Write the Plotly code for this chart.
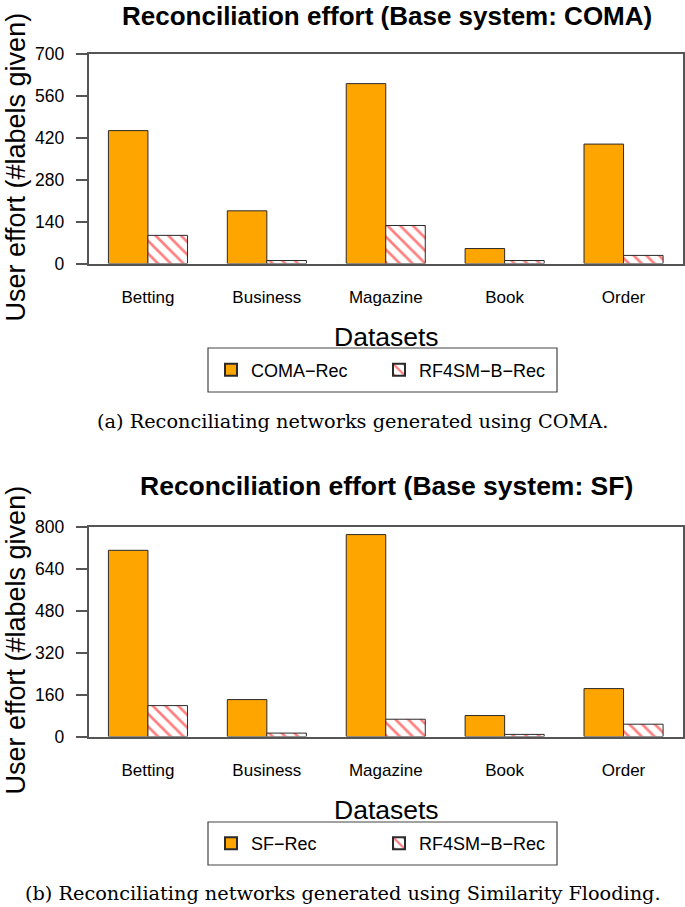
import plotly.graph_objects as go

categories = ["Betting", "Business", "Magazine", "Book", "Order"]
coma_rec = [444, 176, 601, 50, 399]
rf_coma = [94, 10, 127, 10, 27]
sf_rec = [711, 141, 771, 80, 183]
rf_sf = [118, 13, 66, 8, 47]
yticks_top = [0, 140, 280, 420, 560, 700]
yticks_bot = [0, 160, 320, 480, 640, 800]

W, H = 685, 907
def py(p):
    return 1 - p / H
def px(p):
    return p / W

ORANGE = "#FFA500"
SANS = "Liberation Sans"
SERIF = "DejaVu Serif"

fig = go.Figure()
pattern = dict(shape="\\", fgcolor="#FF0000", bgcolor="white", size=9, solidity=0.3)
line = dict(color="#2a2a2a", width=1)

fig.add_bar(x=categories, y=coma_rec, name="COMA\u2212Rec", marker=dict(color=ORANGE, line=line),
            xaxis="x", yaxis="y", legend="legend")
fig.add_bar(x=categories, y=rf_coma, name="RF4SM\u2212B\u2212Rec",
            marker=dict(color="white", line=line, pattern=pattern),
            xaxis="x", yaxis="y", legend="legend")
fig.add_bar(x=categories, y=sf_rec, name="SF\u2212Rec", marker=dict(color=ORANGE, line=line),
            xaxis="x2", yaxis="y2", legend="legend2")
fig.add_bar(x=categories, y=rf_sf, name="RF4SM\u2212B\u2212Rec",
            marker=dict(color="white", line=line, pattern=pattern),
            xaxis="x2", yaxis="y2", legend="legend2")

xd = [px(88.5), px(683)]
common_x = dict(domain=xd, showline=True, linecolor="#555", linewidth=1.5, mirror=True,
                ticks="", tickfont=dict(family=SANS, size=17, color="black"),
                showgrid=False, ticklabelstandoff=17, automargin=False)
common_y = dict(showline=True, linecolor="#555", linewidth=1.5, mirror=True,
                ticks="outside", ticklen=11, tickcolor="#555", tickwidth=1.5,
                ticklabelstandoff=8, automargin=False,
                tickfont=dict(family=SANS, size=17.5, color="black"), showgrid=False, zeroline=False)

legend_common = dict(orientation="h", borderwidth=0, bgcolor="rgba(0,0,0,0)",
                     font=dict(family=SANS, size=18, color="black"), xanchor="left",
                     yanchor="middle", itemsizing="constant", entrywidth=123)

fig.update_layout(
    width=W, height=H, margin=dict(l=0, r=0, t=0, b=0, autoexpand=False),
    plot_bgcolor="white", paper_bgcolor="white",
    barmode="group", bargap=0.335, bargroupgap=0,
    xaxis=dict(**common_x, anchor="y"),
    yaxis=dict(**common_y, domain=[py(263.5), py(54)], range=[0, 700], tickvals=yticks_top, anchor="x"),
    xaxis2=dict(**common_x, anchor="y2"),
    yaxis2=dict(**common_y, domain=[py(736.5), py(527)], range=[0, 800], tickvals=yticks_bot, anchor="x2"),
    legend=dict(**legend_common, x=px(211), y=py(370)),
    legend2=dict(**legend_common, x=px(211), y=py(843.5)),
)

shapes = []
for (y0, y1) in [(348, 392), (822, 865)]:
    shapes.append(dict(type="rect", xref="paper", yref="paper", x0=px(208), x1=px(557),
                       y0=py(y1), y1=py(y0), line=dict(color="#444", width=1.2)))
fig.update_layout(shapes=shapes)

ann = []
def A(text, x, y, size, family=SANS, bold=False, angle=0):
    ann.append(dict(text=("<b>%s</b>" % text) if bold else text, x=px(x), y=py(y), xref="paper", yref="paper",
                    showarrow=False, textangle=angle, font=dict(family=family, size=size, color="black"),
                    xanchor="center", yanchor="middle"))

A("Reconciliation effort (Base system: COMA)", 386.5, 15.5, 26, bold=True)
A("Reconciliation effort (Base system: SF)", 386.5, 486, 26.5, bold=True)
A("User effort (#labels given)", 15, 167.5, 27, angle=-90)
A("User effort (#labels given)", 15, 640.5, 27, angle=-90)
A("Datasets", 387, 337, 26.5)
A("Datasets", 387, 810, 26.5)
A("(a) Reconciliating networks generated using COMA.", 352, 421, 19.3, family=SERIF)
A("(b) Reconciliating networks generated using Similarity Flooding.", 343, 893.5, 19.3, family=SERIF)
fig.update_layout(annotations=ann)

fig.write_html(
    "out.html",
    config={"displayModeBar": False},
    post_script=(
        "document.documentElement.style.margin='0';"
        "document.body.style.margin='0';document.body.style.overflow='hidden';"
        "var d=document.getElementById('{plot_id}');d.style.position='fixed';"
        "d.style.left='0px';d.style.top='0px';"
    ),
)
